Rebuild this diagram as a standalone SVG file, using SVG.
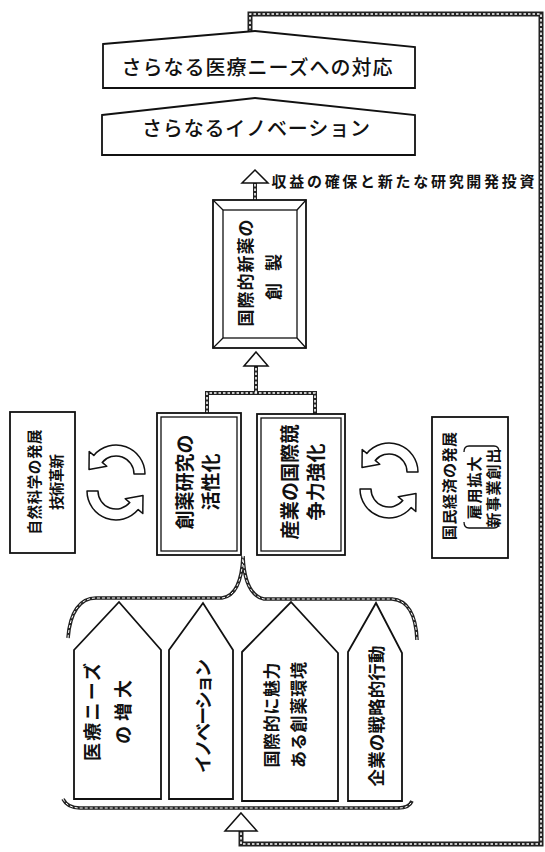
<svg xmlns="http://www.w3.org/2000/svg" xmlns:xlink="http://www.w3.org/1999/xlink" width="545" height="852" viewBox="0 0 545 852">
<style>
.bg{fill:#fff}
.box{fill:#fff;stroke:#111;stroke-width:1.8}
.thin{fill:none;stroke:#111;stroke-width:1.3}
.t{font-family:"Noto Sans CJK JP","Noto Sans",sans-serif;fill:#111;text-anchor:middle;dominant-baseline:central}
.b{font-weight:bold}
.m{font-weight:500}
.rope{fill:none;stroke:#222;stroke-width:5}
.ropein{fill:none;stroke:#fff;stroke-width:1.6;stroke-dasharray:2.5 2}
.rope2{fill:none;stroke:#222;stroke-width:3.6}
.ropein2{fill:none;stroke:#fff;stroke-width:1;stroke-dasharray:3 2}
.head{fill:#fff;stroke:#111;stroke-width:1.5}
.cyc{fill:#fff;stroke:#111;stroke-width:1.5;stroke-linejoin:round}
</style>
<defs>
<path id="cycTop" d="M145 474 A29 29 0 0 0 93.8 455.4 L89.2 451.5 L89 469.6 L106.8 466.3 L102.2 462.4 A18 18 0 0 1 134 474 Z"/>
</defs>
<rect class="bg" x="0" y="0" width="545" height="852"/>

<g id="connectors">
  <path class="rope" d="M250 33 L250 14 L541 14 L541 844 L241 844 L241 831"/>
  <path class="ropein" d="M250 33 L250 14 L541 14 L541 844 L241 844 L241 831"/>
  <polygon class="head" points="241,813 257,831 225,831"/>
  <path class="rope" style="stroke-width:4" d="M255 200 L255 183"/>
  <path class="ropein" d="M255 200 L255 183"/>
  <polygon class="head" points="255,170 268,183 242,183"/>
  <path class="rope" style="stroke-width:4" d="M207 413 L207 393 L315 393 L315 414 M256 393 L256 366"/>
  <path class="ropein" d="M207 413 L207 393 L315 393 L315 414 M256 393 L256 366"/>
  <polygon class="head" points="256,352 268,366 244,366"/>
  <path class="rope2" d="M68 638 C70 612 80 598 96 598 L222 598 C236 596 242 580 243 556 C244 580 250 596 264 599 L392 599 C407 600 416 614 417 640"/>
  <path class="ropein2" d="M68 638 C70 612 80 598 96 598 L222 598 C236 596 242 580 243 556 C244 580 250 596 264 599 L392 599 C407 600 416 614 417 640"/>
  <path class="rope2" d="M63 799 C66 805 72 808 80 808 L398 808 C406 808 410 806 412 801"/>
  <path class="ropein2" d="M63 799 C66 805 72 808 80 808 L398 808 C406 808 410 806 412 801"/>
</g>

<g id="n-iryo-taio">
  <path class="box" d="M103 44 L255 31 L415 47 L415 88 L103 88 Z"/>
  <text class="t m" x="257" y="66" font-size="20" textLength="271" lengthAdjust="spacing">さらなる医療ニーズへの対応</text>
</g>
<g id="n-innovation2">
  <path class="box" d="M102 115 L255 98 L415 115 L415 155 L102 155 Z"/>
  <text class="t m" x="256" y="127" font-size="20" textLength="228" lengthAdjust="spacing">さらなるイノベーション</text>
</g>
<g id="n-label">
  <text class="t b" x="403" y="180" font-size="15" textLength="263" lengthAdjust="spacing">収益の確保と新たな研究開発投資</text>
</g>

<g id="n-shinyaku">
  <rect class="box" x="213" y="200" width="93" height="148"/>
  <rect class="thin" x="223" y="210" width="74" height="128"/>
  <path class="thin" d="M213 200 L223 210 M306 200 L297 210 M213 348 L223 338 M306 348 L297 338"/>
  <text class="t b" transform="translate(244 273) rotate(-90)" x="0" y="0" font-size="17" textLength="107" lengthAdjust="spacing">国際的新薬の</text>
  <text class="t b" transform="translate(272 277) rotate(-90)" x="0" y="0" font-size="17" textLength="46" lengthAdjust="spacing">創製</text>
</g>

<g id="n-shizen">
  <rect class="box" x="10" y="412" width="65" height="141"/>
  <text class="t b" transform="translate(33 482) rotate(-90)" x="0" y="0" font-size="14.5" textLength="105" lengthAdjust="spacing">自然科学の発展</text>
  <text class="t b" transform="translate(55 482) rotate(-90)" x="0" y="0" font-size="14.5" textLength="56" lengthAdjust="spacing">技術革新</text>
</g>

<g id="n-cycle-left">
  <use href="#cycTop" xlink:href="#cycTop" class="cyc"/>
  <use href="#cycTop" xlink:href="#cycTop" class="cyc" transform="rotate(180 116 482.5)"/>
</g>

<g id="n-souyaku">
  <rect class="box" x="157" y="413" width="84" height="142"/>
  <rect class="thin" x="161" y="417" width="76" height="134"/>
  <text class="t b" transform="translate(183 482) rotate(-90)" x="0" y="0" font-size="19" textLength="95" lengthAdjust="spacing">創薬研究の</text>
  <text class="t b" transform="translate(209 482) rotate(-90)" x="0" y="0" font-size="19" textLength="57" lengthAdjust="spacing">活性化</text>
</g>

<g id="n-sangyo">
  <rect class="box" x="257" y="414" width="88" height="141"/>
  <rect class="thin" x="261" y="418" width="80" height="133"/>
  <text class="t b" transform="translate(288 482) rotate(-90)" x="0" y="0" font-size="19" textLength="115" lengthAdjust="spacing">産業の国際競</text>
  <text class="t b" transform="translate(314 482) rotate(-90)" x="0" y="0" font-size="19" textLength="77" lengthAdjust="spacing">争力強化</text>
</g>

<g id="n-cycle-right">
  <use href="#cycTop" xlink:href="#cycTop" class="cyc" transform="translate(273 -2)"/>
  <use href="#cycTop" xlink:href="#cycTop" class="cyc" transform="translate(273 -2) rotate(180 116 482.5)"/>
</g>

<g id="n-kokumin">
  <rect class="box" x="432" y="417" width="76" height="141"/>
  <text class="t b" transform="translate(448 486) rotate(-90)" x="0" y="0" font-size="15" textLength="108" lengthAdjust="spacing">国民経済の発展</text>
  <path class="thin" d="M464 452 C464 448 466 446 469 446 L494 446 C497 446 499 448 499 452"/>
  <path class="thin" d="M464 522 C464 526 466 528 469 528 L494 528 C497 528 499 526 499 522"/>
  <text class="t b" transform="translate(473 488) rotate(-90)" x="0" y="0" font-size="15" textLength="63" lengthAdjust="spacing">雇用拡大</text>
  <text class="t b" transform="translate(492 488) rotate(-90)" x="0" y="0" font-size="15" textLength="79" lengthAdjust="spacing">新事業創出</text>
</g>

<g id="n-iryo-needs">
  <path class="box" d="M74 650 L119 602 L161 650 L161 799 L74 799 Z"/>
  <text class="t b" transform="translate(91 712) rotate(-90)" x="0" y="0" font-size="18" textLength="98" lengthAdjust="spacing">医療ニーズ</text>
  <text class="t b" transform="translate(122 712) rotate(-90)" x="0" y="0" font-size="18" textLength="64" lengthAdjust="spacing">の増大</text>
</g>
<g id="n-innovation">
  <path class="box" d="M169 650 L203 603 L233 650 L233 799 L169 799 Z"/>
  <text class="t b" transform="translate(202 716) rotate(-90)" x="0" y="0" font-size="18" textLength="114" lengthAdjust="spacing">イノベーション</text>
</g>
<g id="n-kankyo">
  <path class="box" d="M242 652 L291 602 L338 653 L338 801 L242 801 Z"/>
  <text class="t b" transform="translate(270 715) rotate(-90)" x="0" y="0" font-size="17" textLength="105" lengthAdjust="spacing">国際的に魅力</text>
  <text class="t b" transform="translate(297 715) rotate(-90)" x="0" y="0" font-size="17" textLength="106" lengthAdjust="spacing">ある創薬環境</text>
</g>
<g id="n-kigyo">
  <path class="box" d="M348 652 L376 603 L402 653 L402 801 L348 801 Z"/>
  <text class="t b" transform="translate(375 716) rotate(-90)" x="0" y="0" font-size="17.5" textLength="141" lengthAdjust="spacing">企業の戦略的行動</text>
</g>
</svg>
